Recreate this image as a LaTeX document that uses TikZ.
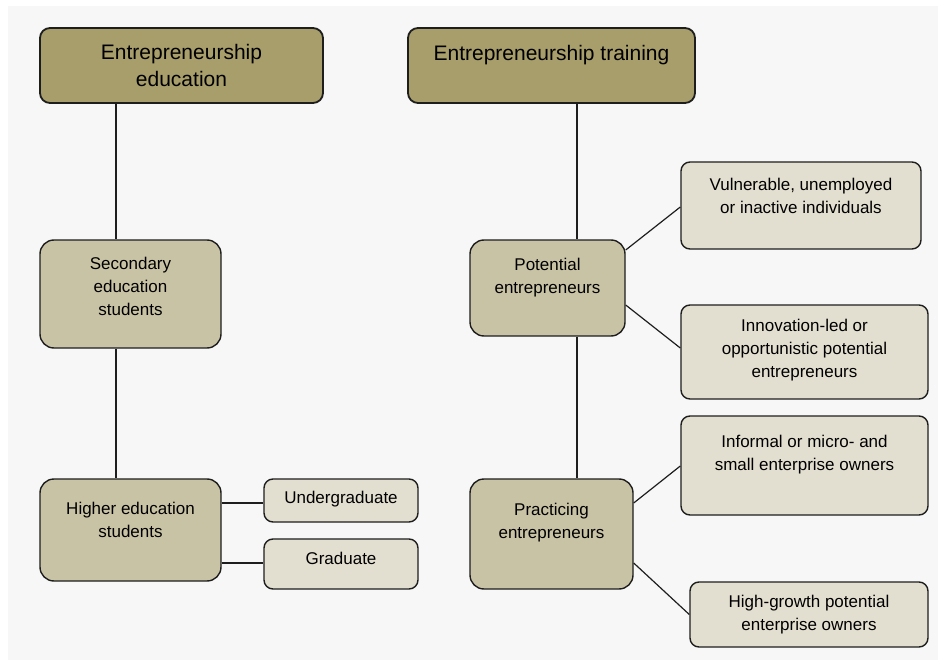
\documentclass[tikz,border=0pt]{standalone}
\usepackage{fontspec}
\setmainfont{Liberation Sans}
\definecolor{bgpanel}{HTML}{F7F7F7}
\definecolor{titlefill}{HTML}{A89E6B}
\definecolor{midfill}{HTML}{C9C3A5}
\definecolor{lightfill}{HTML}{E3DFD0}
\definecolor{edge}{HTML}{1E1E1E}
\tikzset{
  boxbase/.style={draw=edge, line width=1.4pt, inner sep=0pt, anchor=center},
  titlebox/.style={boxbase, fill=titlefill, rounded corners=10pt, line width=1.8pt},
  midbox/.style={boxbase, fill=midfill, rounded corners=14pt},
  leafbox/.style={boxbase, fill=lightfill, rounded corners=9pt},
  titletxt/.style={align=center, inner sep=0pt, font=\fontsize{21}{27}\selectfont},
  bodytxt/.style={align=center, inner sep=0pt, font=\fontsize{17}{23}\selectfont},
  link/.style={draw=edge, line width=1.2pt}
}
\begin{document}
\begin{tikzpicture}[x=1pt,y=-1pt]
\useasboundingbox (0,0) rectangle (946,666);
\fill[white] (0,0) rectangle (946,666);
\fill[bgpanel] (8,6) rectangle (938,660);

% boxes
\node[titlebox, minimum width=283pt, minimum height=75pt] (t1) at (181.5,65.5) {};
\node[titlebox, minimum width=287pt, minimum height=75pt] (t2) at (551.5,65.5) {};
\node[midbox, minimum width=181pt, minimum height=108pt] (sec) at (130.5,294) {};
\node[midbox, minimum width=181pt, minimum height=102pt] (hig) at (130.5,530) {};
\node[leafbox, minimum width=154pt, minimum height=43pt] (und) at (341,500.5) {};
\node[leafbox, minimum width=154pt, minimum height=50pt] (gra) at (341,564) {};
\node[midbox, minimum width=155pt, minimum height=96pt] (pot) at (547.5,288) {};
\node[midbox, minimum width=163pt, minimum height=110pt] (pra) at (551.5,534) {};
\node[leafbox, minimum width=240pt, minimum height=87pt] (vul) at (801,205.5) {};
\node[leafbox, minimum width=247pt, minimum height=94pt] (inn) at (804.5,352) {};
\node[leafbox, minimum width=247pt, minimum height=99pt] (inf) at (804.5,465.5) {};
\node[leafbox, minimum width=238pt, minimum height=65pt] (hgr) at (809,614.5) {};

% texts
\node[titletxt] (t1t) at (t1.center) {Entrepreneurship\\education};
\node[titletxt] (t2t) at ([yshift=10.5pt]t2.center) {Entrepreneurship training};
\node[bodytxt] (sect) at ([yshift=8pt]sec.center) {Secondary\\education\\students};
\node[bodytxt] (higt) at ([yshift=10.5pt]hig.center) {Higher education\\students};
\node[bodytxt] (undt) at ([yshift=1.5pt]und.center) {Undergraduate};
\node[bodytxt] (grat) at ([yshift=6pt]gra.center) {Graduate};
\node[bodytxt] (pott) at ([yshift=10pt]pot.center) {Potential\\entrepreneurs};
\node[bodytxt] (prat) at ([yshift=11.5pt]pra.center) {Practicing\\entrepreneurs};
\node[bodytxt] (vult) at ([yshift=10pt]vul.center) {Vulnerable, unemployed\\or inactive individuals};
\node[bodytxt] (innt) at ([yshift=2pt]inn.center) {Innovation-led or\\opportunistic potential\\entrepreneurs};
\node[bodytxt] (inft) at ([yshift=11pt]inf.center) {Informal or micro- and\\small enterprise owners};
\node[bodytxt] (hgrt) at (hgr.center) {High-growth potential\\enterprise owners};

% connectors
\coordinate (lx) at (116,0);
\coordinate (rx) at (577,0);
\draw[link] (t1.south -| lx) -- (sec.north -| lx);
\draw[link] (sec.south -| lx) -- (hig.north -| lx);
\draw[link] (t2.south -| rx) -- (pot.north -| rx);
\draw[link] (pot.south -| rx) -- (pra.north -| rx);
\draw[link] ([yshift=27pt]hig.east) -- ([yshift=27pt]hig.east -| und.west);
\draw[link] ([yshift=-33pt]hig.east) -- ([yshift=-33pt]hig.east -| gra.west);
\draw[link] ([yshift=38pt]pot.east) -- ([yshift=-1.5pt]vul.west);
\draw[link] ([yshift=-17pt]pot.east) -- ([yshift=4pt]inn.west);
\draw[link] ([yshift=31pt]pra.east) -- ([yshift=-0.5pt]inf.west);
\draw[link] ([yshift=-29pt]pra.east) -- (hgr.west);
\end{tikzpicture}
\end{document}
